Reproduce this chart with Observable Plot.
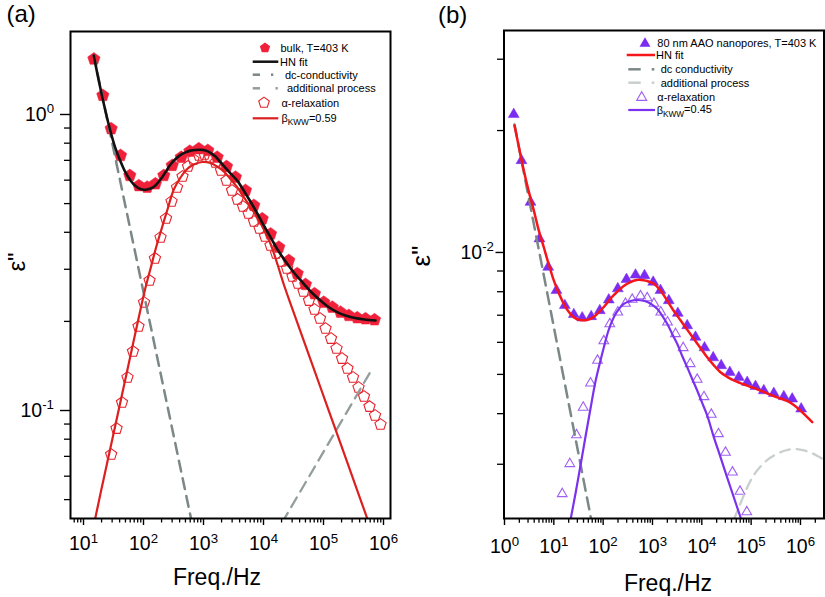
<!DOCTYPE html>
<html><head><meta charset="utf-8">
<script src="https://cdn.jsdelivr.net/npm/d3@7"></script>
<script src="https://cdn.jsdelivr.net/npm/@observablehq/plot@0.6"></script>
<style>
html,body{margin:0;padding:0;overflow:hidden;background:#fff;}
#wrap{position:relative;width:825px;height:597px;font-family:"Liberation Sans",Arial,Helvetica,sans-serif;}
#wrap svg{position:absolute;}
</style></head><body><div id="wrap"></div>
<script>
// ---------- Panel (a): bulk ----------
const freqBulk = [14.9, 21.0, 28.9, 41.4, 59.1, 83.5, 115, 158, 218, 301, 425, 591, 835, 1180, 1690, 2420, 3410, 5010, 6890, 9510, 13100, 18000, 26400, 36500, 50100, 70800, 101000, 140000, 192000, 264000, 365000, 501000, 708000];
const epsBulk = [1.54, 1.16, 0.895, 0.727, 0.622, 0.575, 0.568, 0.583, 0.622, 0.673, 0.717, 0.751, 0.766, 0.756, 0.717, 0.667, 0.614, 0.554, 0.493, 0.444, 0.395, 0.356, 0.321, 0.290, 0.2665, 0.248, 0.232, 0.2234, 0.2149, 0.2094, 0.2057, 0.2041, 0.2025];
const freqAlphaA = [28.9, 35.5, 43.8, 54.1, 66.8, 82.5, 102, 126, 155, 192, 237, 293, 362, 447, 552, 681, 841, 1039, 1283, 1585, 1957, 2417, 2985, 3687, 4553, 5623, 6945, 8577, 10590, 13080, 16160, 19950, 24640, 30430, 37580, 46420, 57330, 70790, 87430, 108000, 133400, 164700, 203400, 251200, 310200, 383100, 473200, 584300, 721700, 891300];
const epsAlphaA = [0.0710, 0.0869, 0.1064, 0.1293, 0.1582, 0.1922, 0.2317, 0.2749, 0.3263, 0.3842, 0.4454, 0.5083, 0.5668, 0.6173, 0.6675, 0.7047, 0.7270, 0.7327, 0.7158, 0.6885, 0.6469, 0.5984, 0.5536, 0.5164, 0.4887, 0.4629, 0.4350, 0.4120, 0.3871, 0.3609, 0.3392, 0.3187, 0.3017, 0.2835, 0.2685, 0.2523, 0.2352, 0.2194, 0.2045, 0.1892, 0.1750, 0.1620, 0.1498, 0.1386, 0.1293, 0.1196, 0.1115, 0.1031, 0.0962, 0.0897];
const freqHNa = [14.85, 17.1, 19.95, 23.3, 28.2, 34.1, 41.4, 50.1, 60.7, 73.6, 89.1, 108, 131, 158, 192, 233, 282, 342, 414, 501, 607, 736, 891, 1080, 1308, 1585, 1920, 2326, 2818, 3646, 5012, 6893, 9513, 13080, 17780, 24830, 34150, 46960, 64810, 89130, 121200, 169200, 232600, 319900, 482400, 735600];
const epsHNa = [1.582, 1.365, 1.177, 1.024, 0.876, 0.768, 0.694, 0.637, 0.598, 0.573, 0.560, 0.557, 0.562, 0.576, 0.603, 0.639, 0.678, 0.707, 0.730, 0.745, 0.755, 0.759, 0.760, 0.755, 0.742, 0.721, 0.690, 0.660, 0.632, 0.598, 0.541, 0.486, 0.4316, 0.3850, 0.3458, 0.3130, 0.2880, 0.2680, 0.2495, 0.2352, 0.2237, 0.2149, 0.2094, 0.2057, 0.2030, 0.2015];
const freqKWWa = [15.3, 19.2, 28.2, 41.4, 60.7, 89.1, 108, 131, 158.5, 192, 248, 320, 414, 535, 689, 951, 1308, 1691, 2180, 2818, 3646, 4695, 6072, 7852, 10120, 13080, 16920, 21800, 28180, 41370, 89130, 192000, 413700, 607400];
const epsKWWa = [0.0422, 0.0524, 0.0750, 0.1073, 0.1534, 0.2194, 0.2603, 0.3017, 0.3499, 0.3994, 0.4739, 0.5580, 0.6125, 0.6545, 0.6776, 0.6910, 0.6856, 0.6674, 0.6420, 0.6054, 0.5680, 0.5255, 0.4869, 0.4498, 0.4088, 0.3659, 0.3138, 0.2665, 0.2298, 0.1848, 0.1196, 0.0774, 0.0500, 0.0402];
const freqDcA = [14.85, 655.6];
const epsDcA = [1.582, 0.0409];
const freqAddA = [20420, 648200];
const epsAddA = [0.04183, 0.1383];
const xTicksA = [10, 100, 1e3, 1e4, 1e5, 1e6];
const yTicksA = [0.1, 1];

// ---------- Panel (b): 80 nm AAO nanopores ----------
const freqPores = [1.54, 2.21, 3.37, 5.12, 7.69, 11.3, 16.7, 25.4, 37.6, 57.2, 85.5, 130, 198, 297, 453, 689, 1033, 1453, 2141, 3260, 5053, 7445, 11330, 17010, 24720, 36920, 56200, 83180, 122500, 180500, 287900, 459200, 679600, 1034000];
const epsPores = [0.02192, 0.01687, 0.01331, 0.01081, 0.00920, 0.00806, 0.00740, 0.00703, 0.00690, 0.00695, 0.00719, 0.00764, 0.00814, 0.00858, 0.00880, 0.00877, 0.00845, 0.00806, 0.00761, 0.00708, 0.00660, 0.00618, 0.00582, 0.00550, 0.00526, 0.00506, 0.00492, 0.00478, 0.00467, 0.00456, 0.00449, 0.00441, 0.00435, 0.00411];
const freqAlphaB = [14.8, 21.1, 28.8, 39.4, 55.4, 76.8, 103, 136.3, 198.1, 283.8, 387.8, 571.3, 781.3, 1073, 1474, 2015, 2927, 4194, 5813, 8060, 11070, 15570, 21780, 30200, 41870, 59430, 81630];
const epsAlphaB = [0.002536, 0.003008, 0.003543, 0.004144, 0.004757, 0.005412, 0.006046, 0.006660, 0.007121, 0.007482, 0.007656, 0.007809, 0.007721, 0.007482, 0.007121, 0.006728, 0.006299, 0.005817, 0.005311, 0.004858, 0.004401, 0.003981, 0.003566, 0.003208, 0.002867, 0.002570, 0.002287];
const freqHNb = [1.595, 1.967, 2.461, 3.065, 3.926, 4.889, 6.262, 7.798, 9.987, 12.44, 15.93, 19.83, 25.4, 30.2, 37.6, 45.9, 55.4, 69.9, 88.3, 111.6, 140.9, 177.9, 224.6, 283.8, 358.3, 431.9, 528, 657.4, 781.3, 1063, 1453, 1987, 2667, 3697, 5053, 6877, 9403, 12850, 17250, 23910, 32700, 44500, 60830, 83160, 113200, 154700, 211500, 287800, 393400, 537800, 721600, 1001000, 1264000, 1729000];
const epsHNb = [0.02059, 0.01816, 0.01594, 0.01423, 0.01270, 0.01140, 0.01030, 0.00939, 0.00853, 0.00796, 0.00747, 0.00715, 0.00692, 0.00684, 0.00680, 0.00681, 0.00686, 0.00699, 0.00719, 0.00742, 0.00769, 0.00792, 0.00814, 0.00832, 0.00845, 0.00853, 0.00856, 0.00854, 0.00850, 0.00837, 0.00806, 0.00761, 0.00719, 0.00680, 0.00645, 0.00612, 0.00581, 0.00551, 0.00528, 0.00506, 0.00493, 0.00483, 0.00476, 0.00469, 0.00463, 0.00456, 0.00449, 0.00442, 0.00436, 0.00430, 0.00421, 0.00407, 0.00396, 0.00381];
const freqKWWb = [21.27, 27.5, 34.7, 43.9, 55.4, 69.9, 88.3, 103.0, 128.3, 164.3, 204.6, 262.0, 358.3, 474.2, 627.4, 830.1, 1000, 1246, 1523, 1987, 2486, 3170, 3965, 5053, 6324, 8062, 10090, 12850, 17250, 23910, 32700, 44500, 60830, 65250];
const epsKWWb = [0.002154, 0.002541, 0.002979, 0.003512, 0.004119, 0.004802, 0.005411, 0.005824, 0.006418, 0.006922, 0.007231, 0.007468, 0.007588, 0.007632, 0.007610, 0.007523, 0.007418, 0.007260, 0.007028, 0.006668, 0.006310, 0.005951, 0.005567, 0.005210, 0.004886, 0.004564, 0.004263, 0.003959, 0.003522, 0.003124, 0.002782, 0.002487, 0.002220, 0.002167];
const freqDcB = [1.595, 59.4];
const epsDcB = [0.0207, 0.002143];
const freqAddB = [43870, 60830, 83160, 111600, 154700, 211500, 337300, 497000, 732000, 1049000, 1596000, 2319000, 3370000];
const epsAddB = [0.002180, 0.002401, 0.002630, 0.002814, 0.002961, 0.003073, 0.003184, 0.003244, 0.003272, 0.003254, 0.003208, 0.003135, 0.003048];
const xTicksB = [1, 10, 100, 1e3, 1e4, 1e5, 1e6];
const yTicksB = [0.01];

// ---------- helpers ----------
const FONT = '"Liberation Sans", Arial, Helvetica, sans-serif';
const rows = (fs, es) => fs.map((f, i) => ({f, e: es[i]}));
const polySymbol = (n) => ({draw(ctx, size) {
  const R = Math.sqrt(size / Math.PI);
  for (let k = 0; k < n; k++) {
    const a = -Math.PI / 2 + k * 2 * Math.PI / n;
    const x = R * Math.cos(a), y = R * Math.sin(a);
    if (k) ctx.lineTo(x, y); else ctx.moveTo(x, y);
  }
  ctx.closePath();
}});
const pentagon = polySymbol(5), triangle = polySymbol(3);
const minorTicks = (lo, hi) => { const out = []; for (let p = Math.floor(Math.log10(lo)); p <= Math.ceil(Math.log10(hi)); p++) for (let m = 2; m <= 9; m++) { const v = m * Math.pow(10, p); if (v >= lo && v <= hi) out.push(+v.toPrecision(3)); } return out; };
const supFmt = d => "10^" + Math.round(Math.log10(d));
function supify(svg) {
  svg.querySelectorAll("text").forEach(t => {
    const m = /^10\^(-?\d+)$/.exec(t.textContent);
    if (m) {
      t.textContent = "10";
      const ts = document.createElementNS("http://www.w3.org/2000/svg", "tspan");
      ts.setAttribute("dy", "-0.55em");
      ts.setAttribute("font-size", "0.68em");
      ts.textContent = m[1];
      t.appendChild(ts);
    }
  });
}

const C = {
  redFill: "#f0203a", redOpen: "#e8232d", redLine: "#dc1f1f", black: "#111111",
  dc: "#7c8787", addA: "#939d9d", hnB: "#f5161b",
  purpleFill: "#7b2cf0", purpleOpen: "#a060f2", purpleLine: "#7a32ee", addB: "#c9cfcf"
};

// ---------- Plot (a) ----------
const xDomA = [6.07, 1.308e6], yDomA = [0.04317, 1.907];
const plotA = Plot.plot({
  width: 400, height: 597,
  marginLeft: 70, marginRight: 10, marginTop: 31, marginBottom: 79,
  style: {fontFamily: FONT, background: "transparent", overflow: "visible", color: "#000"},
  x: {type: "log", domain: xDomA},
  y: {type: "log", domain: yDomA},
  marks: [
    Plot.axisX({ticks: xTicksA, tickSize: 7, tickPadding: 10.5, tickFormat: supFmt, fontSize: 19.5, label: null, strokeWidth: 1.4}),
    Plot.axisX({ticks: minorTicks(...xDomA), tickSize: 4.5, tickFormat: () => "", label: null, strokeWidth: 1.3}),
    Plot.axisY({ticks: yTicksA, tickSize: 10, tickPadding: 6.5, tickFormat: supFmt, fontSize: 19.5, label: null, strokeWidth: 1.4}),
    Plot.axisY({ticks: minorTicks(...yDomA), tickSize: 6, tickFormat: () => "", label: null, strokeWidth: 1.3}),
    Plot.dot(rows(freqBulk, epsBulk), {x: "f", y: "e", symbol: pentagon, r: 6.5, fill: C.redFill, stroke: C.redFill, strokeWidth: 0.5}),
    Plot.dot(rows(freqAlphaA, epsAlphaA), {x: "f", y: "e", symbol: pentagon, r: 5.9, fill: "none", stroke: C.redOpen, strokeWidth: 1.1}),
    Plot.line(rows(freqDcA, epsDcA), {x: "f", y: "e", stroke: C.dc, strokeWidth: 2.5, strokeDasharray: "11,7", clip: true}),
    Plot.line(rows(freqAddA, epsAddA), {x: "f", y: "e", stroke: C.addA, strokeWidth: 2.3, strokeDasharray: "11,7", clip: true}),
    Plot.line(rows(freqKWWa, epsKWWa), {x: "f", y: "e", stroke: C.redLine, strokeWidth: 2.2, curve: "catmull-rom", clip: true}),
    Plot.line(rows(freqHNa, epsHNa), {x: "f", y: "e", stroke: C.black, strokeWidth: 2.6, curve: "catmull-rom", clip: true}),
    Plot.frame({stroke: "#000", strokeWidth: 2})
  ]
});
supify(plotA);
plotA.style.left = "0px"; plotA.style.top = "0px";

// ---------- Plot (b) ----------
const xDomB = [0.977, 2.999e6], yDomB = [0.002204, 0.03532];
const plotB = Plot.plot({
  width: 415, height: 597,
  marginLeft: 93.5, marginRight: 1.5, marginTop: 30, marginBottom: 79,
  style: {fontFamily: FONT, background: "transparent", overflow: "visible", color: "#000"},
  x: {type: "log", domain: xDomB},
  y: {type: "log", domain: yDomB},
  marks: [
    Plot.axisX({ticks: xTicksB, tickSize: 7, tickPadding: 13.5, tickFormat: supFmt, fontSize: 19.5, label: null, strokeWidth: 1.4}),
    Plot.axisX({ticks: minorTicks(...xDomB), tickSize: 4.7, tickFormat: () => "", label: null, strokeWidth: 1.3}),
    Plot.axisY({ticks: yTicksB, tickSize: 8, tickPadding: 2, tickFormat: supFmt, fontSize: 19.5, label: null, strokeWidth: 1.4}),
    Plot.axisY({ticks: minorTicks(...yDomB), tickSize: 6.5, tickFormat: () => "", label: null, strokeWidth: 1.3}),
    Plot.dot(rows(freqPores, epsPores), {x: "f", y: "e", symbol: triangle, r: 6.3, fill: C.purpleFill, stroke: C.purpleFill, strokeWidth: 0.5}),
    Plot.dot(rows(freqAlphaB, epsAlphaB), {x: "f", y: "e", symbol: triangle, r: 5.6, fill: "none", stroke: C.purpleOpen, strokeWidth: 1.1}),
    Plot.line(rows(freqDcB, epsDcB), {x: "f", y: "e", stroke: C.dc, strokeWidth: 2.5, strokeDasharray: "12,7", clip: true}),
    Plot.line(rows(freqAddB, epsAddB), {x: "f", y: "e", stroke: C.addB, strokeWidth: 2.3, strokeDasharray: "10,7", curve: "catmull-rom", clip: true}),
    Plot.line(rows(freqKWWb, epsKWWb), {x: "f", y: "e", stroke: C.purpleLine, strokeWidth: 2.2, curve: "catmull-rom", clip: true}),
    Plot.line(rows(freqHNb, epsHNb), {x: "f", y: "e", stroke: C.hnB, strokeWidth: 2.5, curve: "catmull-rom", clip: true}),
    Plot.frame({stroke: "#000", strokeWidth: 2})
  ]
});
supify(plotB);
plotB.style.left = "410px"; plotB.style.top = "0px";

const wrap = document.getElementById("wrap");
wrap.appendChild(plotA);
wrap.appendChild(plotB);

// ---------- overlay: panel letters, axis titles, legends ----------
const symPath = (sym, R) => { const p = d3.path(); sym.draw(p, Math.PI * R * R); return p.toString(); };
const txt = (x, y, s, size, extra = "") => `<text x="${x}" y="${y}" font-size="${size}" ${extra}>${s}</text>`;
const lg = (x, y, s) => `<text x="${x}" y="${y}" font-size="11" dy="0.35em">${s}</text>`;
const seg = (x1, x2, y, col, w, dash = "") => `<line x1="${x1}" x2="${x2}" y1="${y}" y2="${y}" stroke="${col}" stroke-width="${w}" ${dash}/>`;
const legendA = [
  `<path d="${symPath(pentagon, 5.4)}" transform="translate(265,48)" fill="${C.redFill}"/>`, lg(280.5, 48, "bulk, T=403 K"),
  seg(252.7, 278.3, 61.7, C.black, 2.5), lg(280, 62, "HN fit"),
  seg(252.7, 260, 74.7, C.dc, 2.5), seg(271, 273.3, 74.7, C.dc, 2.5), lg(285, 75, "dc-conductivity"),
  seg(252.7, 260, 88.3, C.addA, 2.5), seg(275.5, 277.8, 88.3, C.addA, 2.5), lg(287, 88.5, "additional process"),
  `<path d="${symPath(pentagon, 5.6)}" transform="translate(264,102.7)" fill="none" stroke="${C.redOpen}" stroke-width="1.1"/>`, lg(281.5, 103, "α-relaxation"),
  seg(252.7, 278.3, 118.3, C.redLine, 2.2),
  `<text x="281.5" y="118.5" font-size="11" dy="0.35em">β<tspan dy="0.3em" font-size="0.75em">KWW</tspan><tspan dy="-0.3em">=0.59</tspan></text>`
].join("");
const legendB = [
  `<path d="${symPath(triangle, 6.3)}" transform="translate(645,43.5)" fill="${C.purpleFill}"/>`, lg(657.3, 42.7, "80 nm AAO nanopores, T=403 K"),
  seg(626.7, 655, 55, C.hnB, 2.5), lg(656, 55.3, "HN fit"),
  seg(628.3, 640.7, 69.3, C.dc, 2.5), seg(651.7, 654.3, 69.3, C.dc, 2.5), lg(660.7, 69.5, "dc conductivity"),
  seg(628.3, 640.7, 82.7, C.addB, 2.5), seg(651.7, 654.3, 82.7, C.addB, 2.5), lg(660.7, 82.9, "additional process"),
  `<path d="${symPath(triangle, 5.8)}" transform="translate(641.7,97.5)" fill="none" stroke="${C.purpleOpen}" stroke-width="1.1"/>`, lg(657.3, 96.8, "α-relaxation"),
  seg(628.3, 655, 110, C.purpleLine, 2.2),
  `<text x="656.7" y="110.2" font-size="11" dy="0.35em">β<tspan dy="0.3em" font-size="0.75em">KWW</tspan><tspan dy="-0.3em">=0.45</tspan></text>`
].join("");
const overlay = `<svg xmlns="http://www.w3.org/2000/svg" width="825" height="597" style="left:0;top:0;pointer-events:none;font-family:${FONT.replace(/"/g, "'")}" fill="#000">
  ${txt(6.5, 22, "(a)", 24)}
  ${txt(438, 22.5, "(b)", 24)}
  ${txt(217, 585, "Freq./Hz", 23, 'text-anchor="middle"')}
  ${txt(668, 591, "Freq./Hz", 23, 'text-anchor="middle"')}
  <text transform="translate(25,262) rotate(-90)" font-size="24" text-anchor="middle">ε"</text>
  <text transform="translate(430,256) rotate(-90)" font-size="26" text-anchor="middle">ε"</text>
  ${legendA}
  ${legendB}
</svg>`;
wrap.insertAdjacentHTML("beforeend", overlay);
</script></body></html>
